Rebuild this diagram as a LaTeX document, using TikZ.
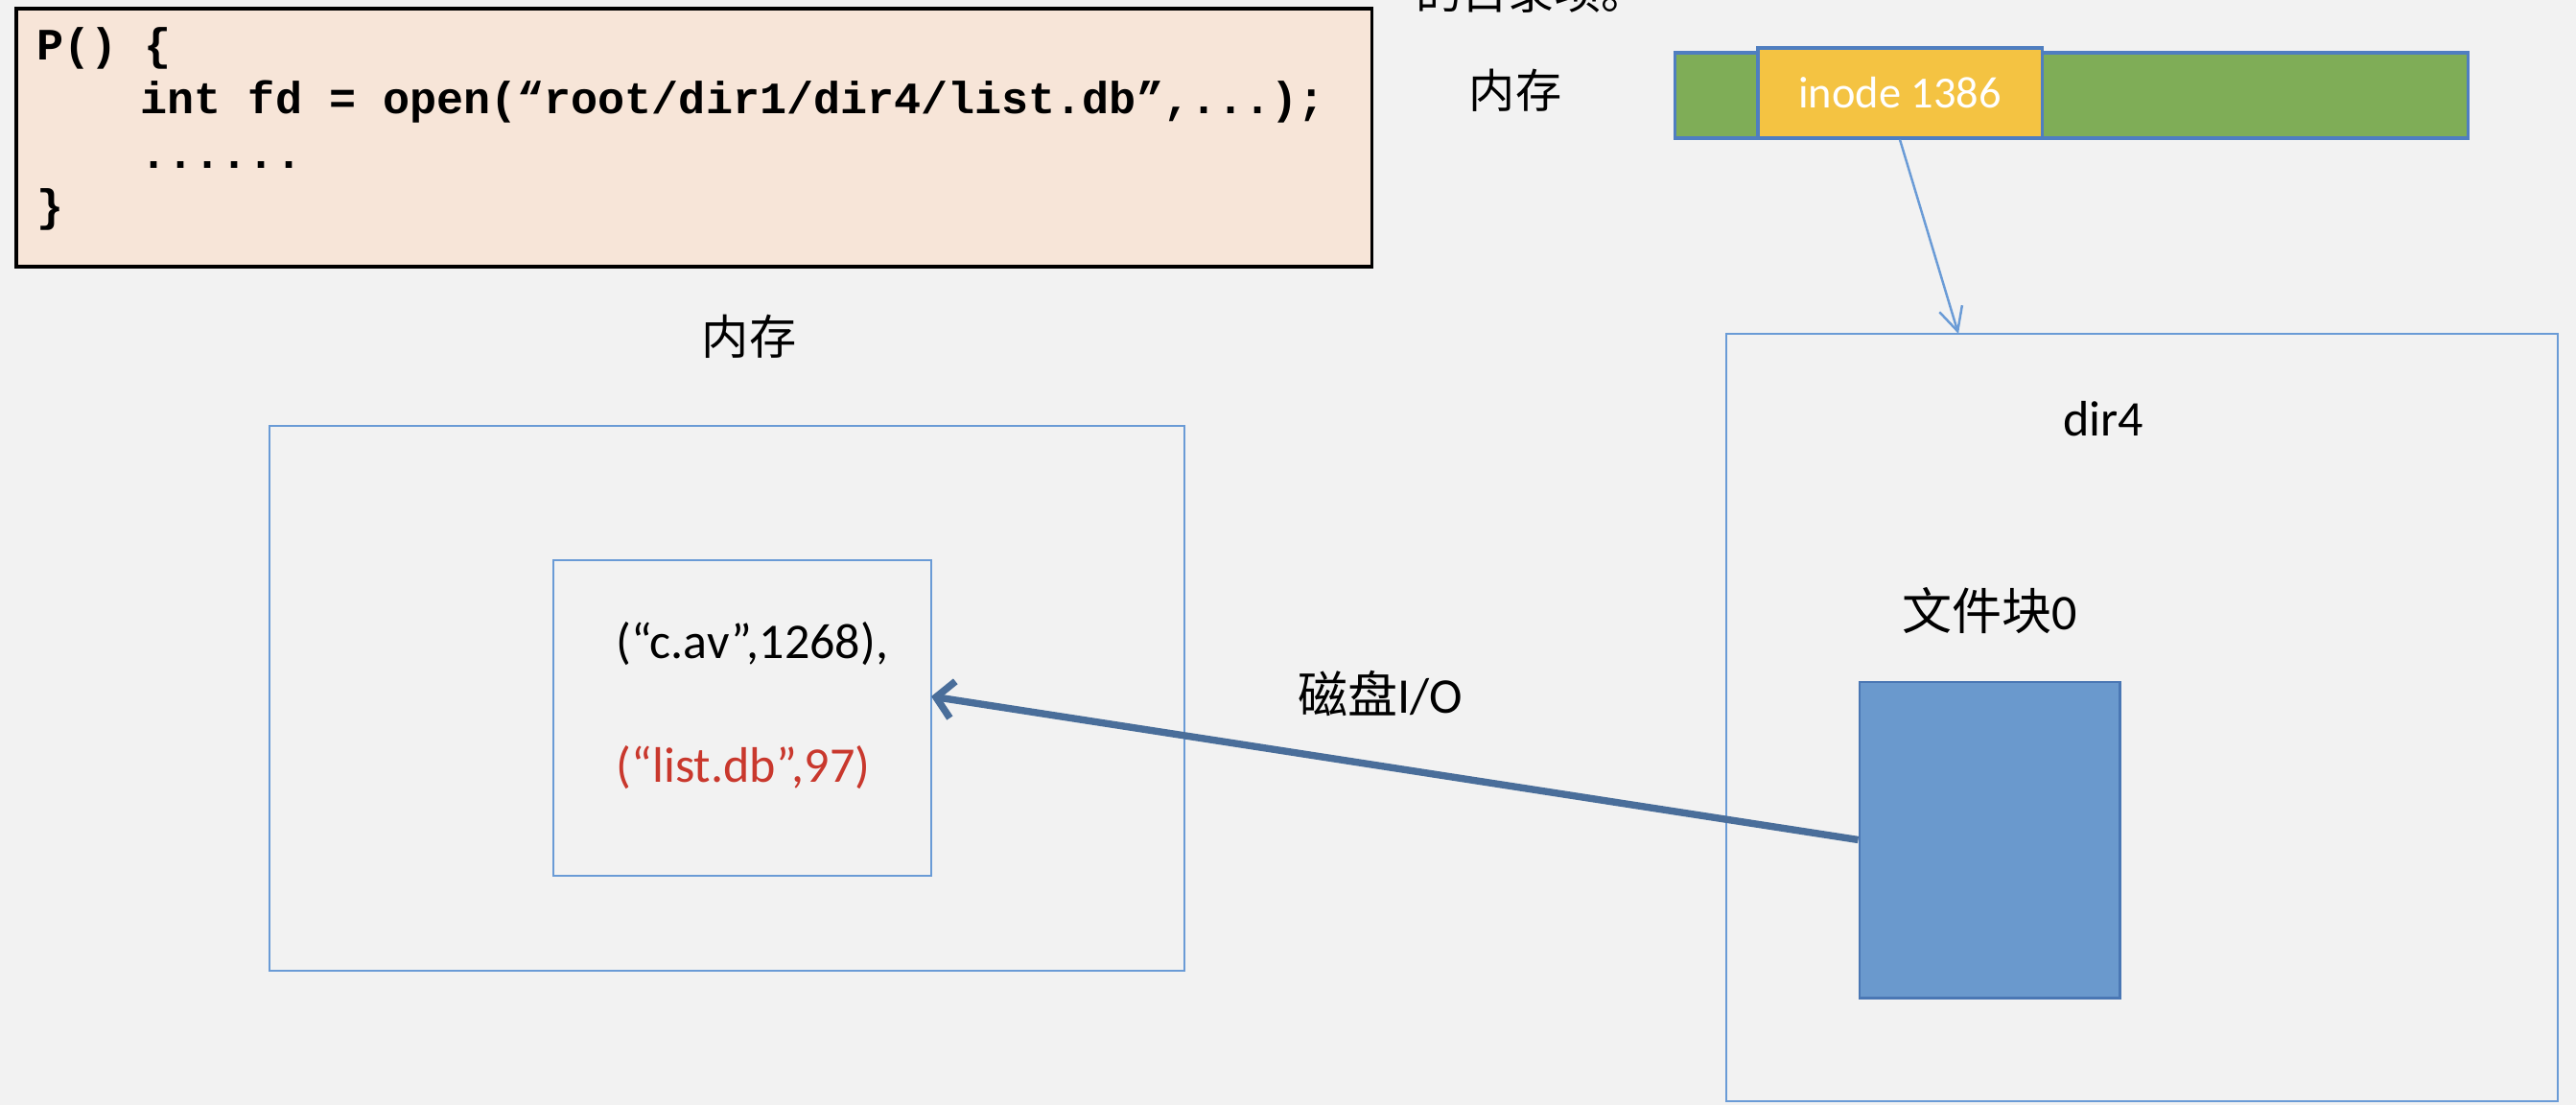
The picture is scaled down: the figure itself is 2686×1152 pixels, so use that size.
\documentclass[tikz,border=0pt]{standalone}
\usepackage{fontspec}
\setmainfont{Carlito}
\setmonofont{Liberation Mono}
\newfontfamily\cjk{Noto Sans CJK SC}
\usetikzlibrary{arrows.meta}
\definecolor{bg}{HTML}{F2F2F2}
\definecolor{codefill}{HTML}{F7E5D8}
\definecolor{bargreen}{HTML}{7FAD57}
\definecolor{barborder}{HTML}{4F7EC0}
\definecolor{inodeyellow}{HTML}{F4C342}
\definecolor{thinblue}{HTML}{6A9BD6}
\definecolor{blockfill}{HTML}{6A99CD}
\definecolor{blockborder}{HTML}{4A77B4}
\definecolor{ioarrow}{HTML}{4A6E9A}
\definecolor{redtext}{HTML}{C9382D}
\tikzset{
  box/.style={draw=thinblue, line width=0.6pt, inner sep=0pt},
  lbl/.style={inner sep=0pt, font=\fontsize{14.8pt}{17pt}\selectfont},
  cjklbl/.style={inner sep=0pt, font=\cjk\fontsize{13.7pt}{16pt}\selectfont},
  codeline/.style={inner sep=0pt, anchor=base west, font=\ttfamily\bfseries\fontsize{13.3pt}{15pt}\selectfont},
}
\begin{document}
\begin{tikzpicture}[x=0.01cm,y=-0.01cm]
\fill[bg] (0,0) rectangle (2686,1152);
\useasboundingbox (0,0) rectangle (2686,1152);

% code box
\node[draw=black, line width=1.1pt, fill=codefill, inner sep=0pt,
      minimum width=14.13cm, minimum height=2.69cm] (code) at (723.5,143.5) {};
\node[codeline] (c1) at (38,63) {P() \{};
\node[codeline] (c2) at (146,119) {int fd = open(“root/dir1/dir4/list.db”,...);};
\node[codeline] (c3) at (146,176) {......};
\node[codeline] (c4) at (38,231) {\}};

% top cut-off text (cut at the edge as in the reference)
\node[cjklbl, anchor=base] (cut) at (1597,10) {的目录项。};

% memory bar
\node[cjklbl] (memtop) at (1580,94) {内存};
\node[draw=barborder, line width=0.9pt, fill=bargreen, inner sep=0pt,
      minimum width=8.26cm, minimum height=0.89cm] (bar) at (2160,99.5) {};
\node[draw=barborder, line width=0.9pt, fill=inodeyellow, inner sep=0pt,
      minimum width=2.96cm, minimum height=0.94cm, text=white,
      font=\fontsize{13.2pt}{15pt}\selectfont] (inode) at (1981,97) {inode 1386};

% dir4 box
\node[box, minimum width=8.67cm, minimum height=8cm] (dir4) at (2233.5,748) {};
\node[lbl] (dir4lbl) at (2193,437) {dir4};
\node[inner sep=0pt, font=\fontsize{14.8pt}{17pt}\selectfont] (blklbl) at (2075,637) {{\cjk 文件块}0};
\node[draw=blockborder, line width=0.8pt, fill=blockfill, inner sep=0pt,
      minimum width=2.71cm, minimum height=3.29cm] (blk) at (2074.5,875.5) {};

\coordinate (d4in) at (2042,348);
\draw[thinblue, line width=0.7pt, -{Straight Barb[length=7pt,width=7pt]}] (inode.south) -- (d4in);

% memory left
\node[cjklbl, font=\cjk\fontsize{14pt}{16pt}\selectfont] (memleft) at (781,351) {内存};
\node[box, minimum width=9.54cm, minimum height=5.68cm] (outer) at (758,728) {};
\node[box, minimum width=3.94cm, minimum height=3.29cm] (inner) at (774,748.5) {};
\node[lbl, anchor=west] (e1) at (642,671) {(“c.av”,1268),};
\node[lbl, anchor=west, text=redtext] (e2) at (642,800) {(“list.db”,97)};

\coordinate (innerin) at (971,726);
\draw[ioarrow, line width=2.1pt, -{Straight Barb[length=5pt,width=11pt]}] (blk.west) -- (innerin);
\node[inner sep=0pt, font=\fontsize{14.8pt}{17pt}\selectfont] (io) at (1439,723) {{\cjk 磁盘}I/O};
\end{tikzpicture}
\end{document}
